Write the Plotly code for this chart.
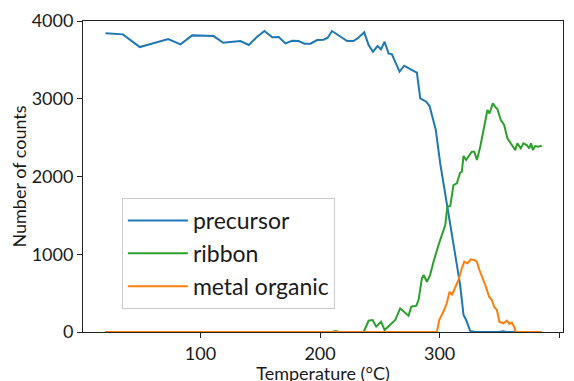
import plotly.graph_objects as go

precursor_T = [20.6, 35.1, 49.3, 61, 73, 83.3, 93, 111, 119, 133.4,
               140.4, 147.4, 153.5, 160, 165.5, 171, 176.6, 182, 187, 192,
               197.5, 203, 206.4, 210, 217, 222.7, 228, 232, 237, 240.6,
               244.3, 248.1, 251, 254, 257.3, 260.1, 266.5, 270.4, 275.4, 281,
               283.8, 288.8, 291.6, 294.4, 296.8, 300.5, 305, 308.9, 313, 315,
               317.2, 320, 322.2, 325.6, 330, 340, 350, 353, 356, 365,
               375, 385.4]
precursor_counts = [3841, 3828, 3665, 3712, 3768, 3699, 3815, 3806, 3720, 3742,
                    3691, 3798, 3871, 3790, 3794, 3712, 3746, 3742, 3708, 3708,
                    3755, 3759, 3785, 3871, 3798, 3742, 3742, 3785, 3854, 3691,
                    3605, 3678, 3636, 3733, 3584, 3571, 3348, 3425, 3382, 3335,
                    3005, 2962, 2906, 2726, 2600, 2169, 1745, 1376, 990, 776,
                    604, 219, 154, 13, 0, 0, 0, 10, 0, 0,
                    0, 0]

ribbon_T = [20.6, 50, 100, 150, 200, 210, 213, 216, 230, 236.5,
            240.6, 244, 247, 251, 254, 258.7, 262.9, 267, 270.4, 274,
            276.3, 280.5, 282.4, 285.2, 286.6, 289.4, 292.1, 294.9, 299.1, 301.9,
            304.7, 306.5, 308.9, 311.6, 314.4, 317.2, 318.6, 320, 322.2, 325,
            327, 329, 331.2, 334, 336.7, 340, 341.7, 344.5, 346.4, 348.4,
            351.2, 354, 356.7, 359.6, 363.2, 365, 367.9, 370.1, 372.9, 374.9,
            376.5, 378, 379.9, 382.6, 385.4]
ribbon_counts = [0, 0, 0, 0, 0, 0, 12, 0, 0, 0,
                 145, 154, 69, 133, 26, 90, 154, 304, 253, 210,
                 325, 338, 411, 690, 733, 647, 733, 904, 1119, 1247,
                 1376, 1611, 1620, 1890, 1912, 2049, 2062, 2264, 2212, 2276,
                 2319, 2319, 2212, 2383, 2598, 2855, 2812, 2941, 2898, 2864,
                 2726, 2662, 2491, 2426, 2340, 2426, 2362, 2426, 2405, 2362,
                 2426, 2340, 2392, 2383, 2396]

metal_T = [20.6, 100, 200, 297.7, 299.7, 301.9, 303.8, 306, 308.3, 310.3,
           313, 315.8, 318.6, 320.6, 323.3, 326.1, 328.9, 331.1, 333.3, 336.2,
           338.7, 341.4, 343.7, 345.6, 347.9, 350, 353.4, 356.2, 358.4, 360.4,
           362.3, 363.7, 375, 385.4]
metal_counts = [0, 0, 0, 0, 154, 219, 283, 369, 518, 476,
                562, 669, 819, 904, 883, 935, 926, 904, 797, 690,
                583, 454, 411, 325, 283, 133, 112, 145, 103, 120,
                69, 0, 0, 0]

x_ticks = [100, 200, 300, 400]
y_ticks = [0, 1000, 2000, 3000, 4000]

FONT = "Lato"
TXT = "#1a1a1a"

fig = go.Figure()
fig.add_trace(go.Scatter(x=precursor_T, y=precursor_counts, mode="lines",
                         name="precursor", line=dict(color="#1f77b4", width=2)))
fig.add_trace(go.Scatter(x=ribbon_T, y=ribbon_counts, mode="lines",
                         name="ribbon", line=dict(color="#2ca02c", width=2)))
fig.add_trace(go.Scatter(x=metal_T, y=metal_counts, mode="lines",
                         name="metal organic", line=dict(color="#ff7f0e", width=2)))

axis_common = dict(showgrid=False, zeroline=False, showline=True, mirror=True,
                   linecolor="#222", linewidth=1, ticks="outside", ticklen=5,
                   tickcolor="#222", tickwidth=1,
                   tickfont=dict(family=FONT, size=18, color=TXT))

fig.update_xaxes(range=[1.75, 403.2], tickvals=x_ticks,
                 title=dict(text="Temperature (°C)", font=dict(family=FONT, size=18, color=TXT),
                            standoff=8),
                 **axis_common)
fig.update_yaxes(range=[0, 4000], tickvals=y_ticks,
                 title=dict(text="Number of counts", font=dict(family=FONT, size=18, color=TXT),
                            standoff=7),
                 **axis_common)

# page body has an 8px margin, so the figure is drawn 8px in from the corner
fig.update_layout(
    width=566, height=376,
    margin=dict(l=75, r=11, t=13, b=52, autoexpand=False),
    paper_bgcolor="white", plot_bgcolor="white",
    font=dict(family=FONT, color=TXT),
    legend=dict(x=0.081, y=0.431, xanchor="left", yanchor="top",
                bgcolor="white", bordercolor="#cccccc", borderwidth=1,
                font=dict(family=FONT, size=23, color=TXT), itemwidth=60),
)

fig.write_html("out.html")
